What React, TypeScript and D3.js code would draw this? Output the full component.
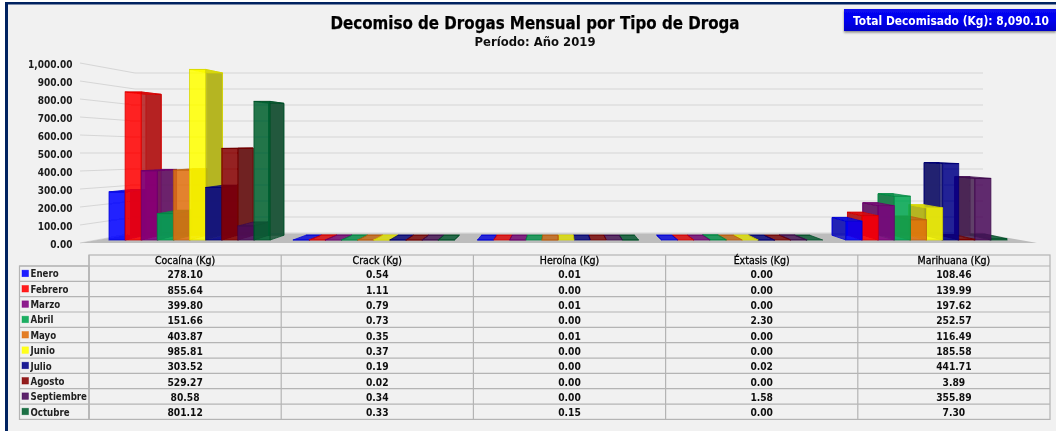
import React from "react";
import * as d3 from "d3";

const months = ["Enero","Febrero","Marzo","Abril","Mayo","Junio","Julio","Agosto","Septiembre","Octubre"];
const monthColors = ["#0000ff","#ff0000","#800080","#00a550","#e0700f","#ffff00","#000088","#860000","#4a0c5a","#006030"];
const drugs = ["Cocaína (Kg)","Crack (Kg)","Heroína (Kg)","Éxtasis (Kg)","Marihuana (Kg)"];
const cocaina = [278.10,855.64,399.80,151.66,403.87,985.81,303.52,529.27,80.58,801.12];
const crack = [0.54,1.11,0.79,0.73,0.35,0.37,0.19,0.02,0.34,0.33];
const heroina = [0.01,0,0.01,0,0.01,0,0,0,0,0.15];
const extasis = [0,0,0,2.30,0,0,0.02,0,1.58,0];
const marihuana = [108.46,139.99,197.62,252.57,116.49,185.58,441.71,3.89,355.89,7.30];
const seriesValues = [cocaina,crack,heroina,extasis,marihuana];
const yTicks = d3.range(0,1001,100);
const titleText = "Decomiso de Drogas Mensual por Tipo de Droga";
const subtitleText = "Período: Año 2019";
const totalText = "Total Decomisado (Kg): 8,090.10";

const FONT = "'DejaVu Sans', Verdana, sans-serif";
const fmt = d3.format(",.2f");

// projection
const vx = 558, vy = 142, depth = 0.048;
const proj = (x:number,y:number,z:number):[number,number] => [x+z*depth*(vx-x), y+z*depth*(vy-y)];
const poly = (pts:[number,number][]) => pts.map(p=>p[0].toFixed(2)+","+p[1].toFixed(2)).join(" ");

const yBar = d3.scaleLinear().domain([0,1000]).range([240,67]);
const yFront = d3.scaleLinear().domain([0,1000]).range([243,63]);
const yBack = d3.scaleLinear().domain([0,1000]).range([233,73]);
const xGroup = d3.scaleBand<string>().domain(drugs).range([109,1007]).paddingInner(0.126).paddingOuter(0);
const xMonth = d3.scaleBand<string>().domain(months).range([0,xGroup.bandwidth()]);

const colX = d3.scaleBand<string>().domain(drugs).range([89,1050]);
const rowY = d3.scaleBand<string>().domain(months).range([266,419.4]);

const T = (p:any) => {
  const {len, ...rest} = p;
  return <text fontFamily={FONT} style={{fontStretch:len?"normal":"condensed"}} {...rest} {...(len?{textLength:len,lengthAdjust:"spacingAndGlyphs"}:{})}/>;
};

export default function App(){
  if (typeof document!=="undefined") document.body.style.margin="0";
  const bars:any[] = [];
  drugs.forEach((d,di)=>months.forEach((m,mi)=>{
    const x0=(xGroup(d) as number)+(xMonth(m) as number);
    bars.push({x0,x1:x0+xMonth.bandwidth(),v:seriesValues[di][mi],c:monthColors[mi],key:d+m});
  }));
  bars.sort((a,b)=>Math.abs((b.x0+b.x1)/2-vx)-Math.abs((a.x0+a.x1)/2-vx));
  return (
    <svg width={1056} height={431} style={{display:"block",position:"absolute",left:0,top:0}}>
      <defs>
        <linearGradient id="tot" x1="0" y1="0" x2="0" y2="1">
          <stop offset="0" stopColor="#0a0af0"/><stop offset="0.5" stopColor="#0000f0"/><stop offset="1" stopColor="#0000c8"/>
        </linearGradient>
        <filter id="sh" x="-5%" y="-20%" width="110%" height="150%">
          <feDropShadow dx="0" dy="1.5" stdDeviation="1" floodColor="#000" floodOpacity="0.45"/>
        </filter>
        <filter id="soft" x="0" y="0" width="100%" height="100%" filterUnits="objectBoundingBox">
          <feGaussianBlur stdDeviation="0.35"/>
        </filter>
      </defs>
      <g filter="url(#soft)">
      <rect width={1056} height={431} fill="#ffffff"/>
      <rect x={5} y={2} width={1051} height={429} fill="#002060"/>
      <rect x={8} y={4.5} width={1048} height={426.5} fill="#f1f1f1"/>

      <T x={535} y={29} textAnchor="middle" fontSize={17} fontWeight={700} fill="#000" stroke="#000" strokeWidth={0.25} len={409}>{titleText}</T>
      <T x={535} y={45.5} textAnchor="middle" fontSize={12.5} fontWeight={700} fill="#111" len={121}>{subtitleText}</T>

      <rect x={844} y={9} width={212} height={22} fill="url(#tot)" filter="url(#sh)"/>
      <T x={951} y={25} textAnchor="middle" fontSize={12.2} fontWeight={700} fill="#fff" len={196}>{totalText}</T>

      {/* grid */}
      {yTicks.map(t=>(
        <g key={t}>
          <line x1={80} y1={yFront(t)} x2={135} y2={yBack(t)} stroke="#d6d6d6" strokeWidth={1.2}/>
          <line x1={135} y1={yBack(t)} x2={983} y2={yBack(t)} stroke="#d6d6d6" strokeWidth={1.2}/>
          <T x={72.5} y={yFront(t)+5} textAnchor="end" fontSize={10} fontWeight={700} fill="#1a1a1a">{fmt(t)}</T>
        </g>
      ))}
      <polygon points={poly([[80,243],[1037,243],[983,233.5],[135,233.5]])} fill="#bcbcbc"/>

      {/* bars */}
      {bars.map(b=>{
        const top=yBar(b.v), bot=yBar(0);
        const side=d3.interpolateRgb(b.c,"#444444")(0.4);
        const topFill=d3.interpolateRgb(b.c,"#444444")(0.2);
        const edge=(d3.color(b.c) as any).darker(0.5).formatHex();
        const frontEdge = (b.x0+b.x1)/2<vx ? b.x1 : b.x0;
        const sidePts=[proj(frontEdge,top,0),proj(frontEdge,top,1),proj(frontEdge,bot,1),proj(frontEdge,bot,0)];
        const topPts=[proj(b.x0,top,0),proj(b.x1,top,0),proj(b.x1,top,1),proj(b.x0,top,1)];
        const backPts=[proj(b.x0,top,1),proj(b.x1,top,1),proj(b.x1,bot,1),proj(b.x0,bot,1)];
        return (
          <g key={b.key} strokeWidth={1} strokeOpacity={0.75} stroke={edge}>
            <polygon points={poly(backPts)} fill={side} fillOpacity={0.8}/>
            <polygon points={poly(sidePts)} fill={side} fillOpacity={0.85}/>
            <polygon points={poly(topPts)} fill={topFill} fillOpacity={0.85}/>
            <rect x={b.x0} y={top} width={b.x1-b.x0} height={bot-top} fill={b.c} fillOpacity={0.87}/>
          </g>
        );
      })}

      {/* table */}
      <g stroke="#b4b4b4" strokeWidth={1.2} fill="none">
        <rect x={89} y={255} width={961} height={164.4}/>
        <rect x={19.5} y={266} width={69.5} height={153.4}/>
        {months.map(m=><line key={m} x1={19.5} x2={1050} y1={rowY(m)} y2={rowY(m)}/>)}
        {drugs.map(d=><line key={d} x1={colX(d)} x2={colX(d)} y1={255} y2={419.4}/>)}
      </g>
      {drugs.map(d=>(
        <T key={d} x={(colX(d) as number)+colX.bandwidth()/2} y={264.3} textAnchor="middle" fontSize={10.5} fontWeight={400} fill="#000" stroke="#000" strokeWidth={0.3}>{d}</T>
      ))}
      {months.map((m,mi)=>{
        const cy=(rowY(m) as number)+rowY.bandwidth()/2;
        return (
          <g key={m}>
            <rect x={22} y={cy-3.5} width={6.5} height={6.5} fill={d3.interpolateRgb(monthColors[mi],"#ffffff")(0.1)} stroke={monthColors[mi]} strokeOpacity={0.6} strokeWidth={0.7}/>
            <T x={30.5} y={cy+3.8} fontSize={9.6} fontWeight={700} fill="#222">{m}</T>
            {drugs.map((d,di)=>(
              <T key={d} x={(colX(d) as number)+colX.bandwidth()/2} y={cy+4.6} textAnchor="middle" fontSize={10.2} fontWeight={600} fill="#111">{fmt(seriesValues[di][mi])}</T>
            ))}
          </g>
        );
      })}
      </g>
    </svg>
  );
}
